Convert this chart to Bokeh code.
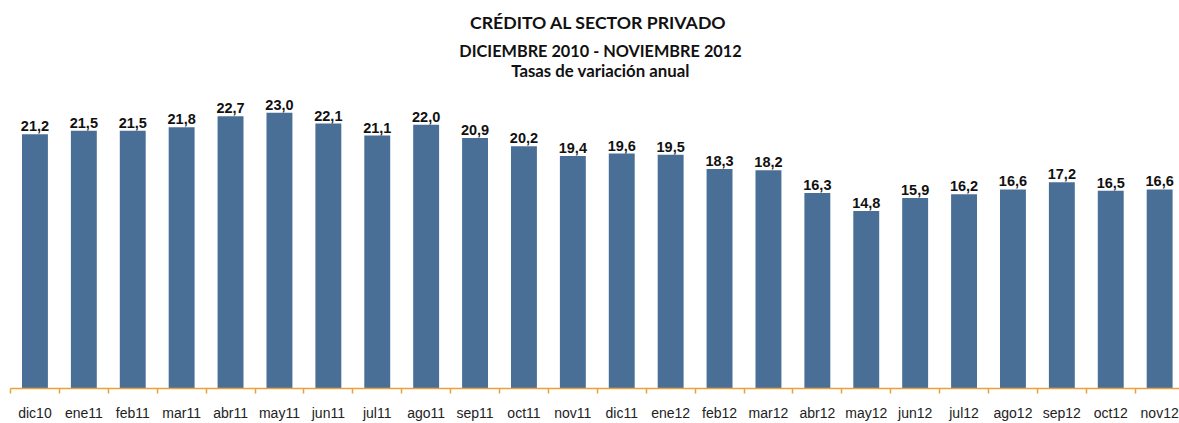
from bokeh.plotting import figure
from bokeh.models import Range1d, FixedTicker, Label, ColumnDataSource
from bokeh.core.properties import value
from bokeh.embed import file_html
from bokeh.resources import INLINE

months = ["dic10", "ene11", "feb11", "mar11", "abr11", "may11", "jun11", "jul11",
          "ago11", "sep11", "oct11", "nov11", "dic11", "ene12", "feb12", "mar12",
          "abr12", "may12", "jun12", "jul12", "ago12", "sep12", "oct12", "nov12"]
values = [21.2, 21.5, 21.5, 21.8, 22.7, 23.0, 22.1, 21.1, 22.0, 20.9, 20.2, 19.4,
          19.6, 19.5, 18.3, 18.2, 16.3, 14.8, 15.9, 16.2, 16.6, 17.2, 16.5, 16.6]
title1 = "CRÉDITO AL SECTOR  PRIVADO"
title2 = "DICIEMBRE 2010 - NOVIEMBRE 2012"
title3 = "Tasas de variación anual"

xs = [i + 0.5 for i in range(len(months))]
labels = [f"{v:.1f}".replace(".", ",") for v in values]
src = ColumnDataSource(dict(x=xs, v=values, lab=labels))

BAR = "#4A6F97"
ORANGE = "#E6A23C"
PX_PER_UNIT = 12.05
FRAME_H = 390
CAT_W = 48.9

p = figure(width=1179, height=423, output_backend="svg", toolbar_location=None,
           x_range=Range1d(0, (1179 - 10) / CAT_W), y_range=Range1d(0, FRAME_H / PX_PER_UNIT),
           y_axis_location=None,
           min_border_left=10, min_border_right=0, min_border_top=0, min_border_bottom=33)
p.background_fill_color = "white"
p.border_fill_color = "white"
p.outline_line_color = None
p.xgrid.visible = False
p.ygrid.visible = False

p.vbar(x="x", top="v", width=0.53, source=src, fill_color=BAR, line_color=None)
p.text(x="x", y="v", text="lab", source=src, text_align="center",
       text_baseline="alphabetic", y_offset=-8,
       text_font=value("Liberation Sans"), text_font_style="bold",
       text_font_size="14.5px", text_color="#111111")

ax = p.xaxis[0]
ax.ticker = FixedTicker(ticks=xs, minor_ticks=list(range(len(months) + 1)))
ax.major_label_overrides = {x: m for x, m in zip(xs, months)}
ax.major_tick_out = 0
ax.major_tick_in = 0
ax.minor_tick_out = 5
ax.minor_tick_in = 0
ax.minor_tick_line_color = ORANGE
ax.minor_tick_line_width = 1.5
ax.axis_line_color = ORANGE
ax.axis_line_width = 1.5
ax.major_label_standoff = 11
ax.major_label_text_font = "Liberation Sans"
ax.major_label_text_font_size = "14px"
ax.major_label_text_color = "#222222"

cx = (600 - 10) / CAT_W
for txt, py, size in [(title1, 22, "17.7px"), (title2, 50, "16.3px"), (title3, 70, "16.8px")]:
    p.add_layout(Label(x=cx, y=(FRAME_H - py) / PX_PER_UNIT, text=txt, text_align="center",
                       text_baseline="middle", text_font="Lato",
                       text_font_style="bold", text_font_size=size,
                       text_color="#111111"))

open("out.html", "w").write(file_html(p, INLINE))
